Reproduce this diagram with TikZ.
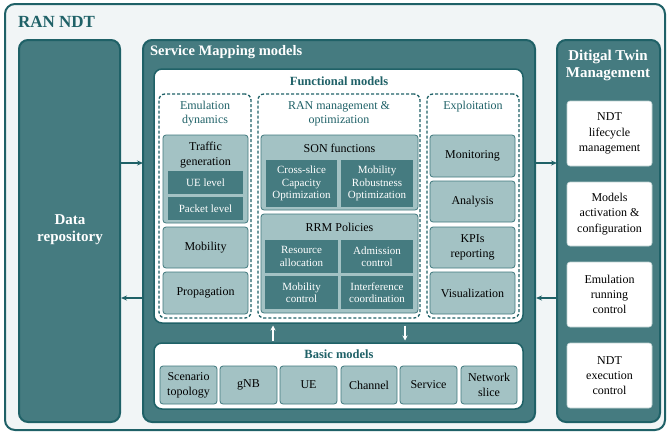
\documentclass[tikz,border=0pt]{standalone}
\usepackage{fontspec}
\setmainfont{Liberation Serif}
\usetikzlibrary{arrows.meta}
\definecolor{dteal}{HTML}{1F6167}
\definecolor{mteal}{HTML}{457B80}
\definecolor{lteal}{HTML}{A3C2C4}
\definecolor{bgc}{HTML}{F1F5F6}
\newcommand{\rbox}[7]{\node[#1, minimum width={(#5-#3)*1pt}, minimum height={(#6-#4)*1pt}] (#2) at ({(#3+#5)/2},{(#4+#6)/2}) {#7};}
\tikzset{
  every node/.style={inner sep=0pt, outer sep=0pt},
  outerbox/.style={draw=dteal, line width=2pt, fill=bgc, rounded corners=10pt},
  bigdark/.style={draw=dteal, line width=2pt, fill=mteal, rounded corners=9pt},
  whitebox/.style={draw=dteal, line width=1.5pt, fill=white, rounded corners=8pt},
  dashbox/.style={draw=dteal, line width=1.3pt, dash pattern=on 3pt off 2pt, rounded corners=6pt},
  lbox/.style={draw=dteal!85, line width=0.8pt, fill=lteal, rounded corners=3pt, font=\fontsize{12}{14.8}\selectfont, align=center},
  dbox/.style={fill=mteal, text=white, font=\fontsize{11}{12.4}\selectfont, align=center},
  wbox/.style={fill=white, draw=dteal!30, line width=0.6pt, rounded corners=3pt, font=\fontsize{12}{15.3}\selectfont, align=center},
  ttl/.style={text=dteal, font=\fontsize{12}{14}\selectfont, align=center},
  bttl/.style={text=dteal, font=\bfseries\fontsize{12.5}{14}\selectfont, align=center},
  wttl/.style={text=white, font=\bfseries\fontsize{15}{17}\selectfont, align=center},
  arr/.style={draw=dteal, line width=1.5pt, -{Stealth[length=6pt,width=5pt]}},
  warr/.style={draw=white, line width=1.2pt, -{Stealth[length=5pt,width=5pt]}},
}
\begin{document}
\begin{tikzpicture}[x=1pt,y=-1pt]
\useasboundingbox (0,0) rectangle (668,434);
% outer
\rbox{outerbox}{outer}{5}{4}{665}{430}{}
\node[text=dteal, font=\bfseries\fontsize{17}{19}\selectfont, anchor=west] (ranndt) at (18,22) {RAN NDT};
% big columns
\rbox{bigdark}{data}{19}{40}{120}{422}{}
\node[wttl] (datat) at (70,230) {Data\\repository};
\rbox{bigdark}{service}{143}{40}{535}{422}{}
\node[wttl, anchor=west, font=\bfseries\fontsize{14.5}{17}\selectfont] (servicet) at (150,52) {Service Mapping models};
\rbox{bigdark}{dt}{557}{40}{660}{422}{}
\node[wttl, font=\bfseries\fontsize{15}{17}\selectfont] (dtt) at (608,65) {Ditigal Twin\\Management};
% functional models
\rbox{whitebox}{func}{154}{69}{523}{323}{}
\node[bttl] (funct) at (339,81) {Functional models};
\rbox{dashbox}{emu}{159}{94}{251}{318}{}
\rbox{dashbox}{ranm}{258}{94}{420}{318}{}
\rbox{dashbox}{expl}{427}{94}{519}{318}{}
\node[ttl] (emut) at (205,114) {Emulation\\dynamics};
\node[ttl] (ranmt) at (339,114) {RAN management \&\\optimization};
\node[ttl] (explt) at (473,107) {Exploitation};
% emulation
\rbox{lbox}{traffic}{163}{135}{248}{223}{}
\node[font=\fontsize{12}{14.8}\selectfont, align=center] (traffict) at (205.5,155) {Traffic\\generation};
\rbox{dbox}{uelevel}{168}{171}{243}{194}{UE level}
\rbox{dbox}{pktlevel}{168}{197}{243}{220}{Packet level}
\rbox{lbox}{mobility}{163}{227}{248}{268}{Mobility}
\rbox{lbox}{propag}{163}{272}{248}{314}{Propagation}
% RAN management
\rbox{lbox}{son}{261}{135}{418}{210}{}
\node[font=\fontsize{12}{14}\selectfont] (sont) at (339.5,148) {SON functions};
\rbox{dbox}{cross}{266}{160}{337}{207}{Cross-slice\\Capacity\\Optimization}
\rbox{dbox}{mro}{341}{160}{413}{207}{Mobility\\Robustness\\Optimization}
\rbox{lbox}{rrm}{261}{214}{418}{313}{}
\node[font=\fontsize{12}{14}\selectfont] (rrmt) at (339.5,227) {RRM Policies};
\rbox{dbox}{resalloc}{265}{240}{338}{273}{Resource\\allocation}
\rbox{dbox}{admission}{341}{240}{413}{273}{Admission\\control}
\rbox{dbox}{mobctrl}{265}{276}{338}{309}{Mobility\\control}
\rbox{dbox}{interf}{341}{276}{413}{309}{Interference\\coordination}
% exploitation
\rbox{lbox}{monit}{430}{135}{515}{177}{Monitoring}
\rbox{lbox}{analysis}{430}{181}{515}{222}{Analysis}
\rbox{lbox}{kpis}{430}{227}{515}{268}{KPIs\\reporting}
\rbox{lbox}{visual}{430}{272}{515}{314}{Visualization}
% basic models
\rbox{whitebox}{basic}{154}{343}{523}{409}{}
\node[bttl] (basict) at (339,354) {Basic models};
\rbox{lbox}{scen}{160}{366}{217}{404}{Scenario\\topology}
\rbox{lbox}{gnb}{220}{366}{277}{404}{gNB}
\rbox{lbox}{ue}{280}{366}{337}{404}{UE}
\rbox{lbox}{channel}{341}{366}{397}{404}{Channel}
\rbox{lbox}{servicem}{400}{366}{457}{404}{Service}
\rbox{lbox}{netslice}{461}{366}{517}{404}{Network\\slice}
% digital twin management
\rbox{wbox}{lifecycle}{567}{101}{652}{166}{NDT\\lifecycle\\management}
\rbox{wbox}{activation}{567}{182}{652}{246}{Models\\activation \&\\configuration}
\rbox{wbox}{running}{567}{262}{652}{327}{Emulation\\running\\control}
\rbox{wbox}{execution}{567}{343}{652}{408}{NDT\\execution\\control}
% arrows
\draw[arr] (data.east |- 0,163) -- (service.west |- 0,163);
\draw[arr] (service.west |- 0,298) -- ([xshift=1pt]data.east |- 0,298);
\draw[arr] (service.east |- 0,163) -- (dt.west |- 0,163);
\draw[arr] (dt.west |- 0,298) -- ([xshift=1pt]service.east |- 0,298);
\draw[warr] ([yshift=2.5pt]basic.north -| 273,0) -- ([yshift=-2.5pt]func.south -| 273,0);
\draw[warr] ([yshift=-2.5pt]func.south -| 405,0) -- ([yshift=2.5pt]basic.north -| 405,0);
\end{tikzpicture}
\end{document}
